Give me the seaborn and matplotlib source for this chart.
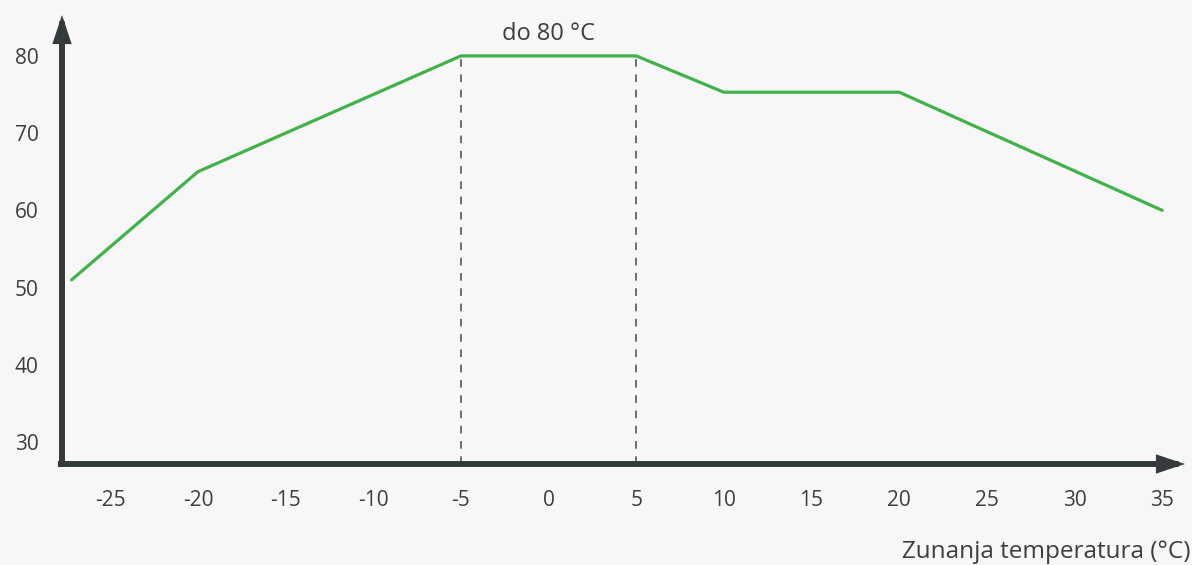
import pandas as pd
import matplotlib.pyplot as plt
import seaborn as sns

# data
outside_temp = [-27.2, -20, -5, 5, 10, 20, 35]
water_temp = [51, 65, 80, 80, 75.3, 75.3, 60]
x_ticks = [-25, -20, -15, -10, -5, 0, 5, 10, 15, 20, 25, 30, 35]
y_ticks = [30, 40, 50, 60, 70, 80]
band_edges = [-5, 5]
band_label = "do 80 °C"
x_label = "Zunanja temperatura (°C)"

bg = "#f7f7f7"
axis_col = "#353b3d"
text_col = "#3b3f41"
green = "#41b149"

sns.set_theme(style="white")
plt.rcParams['font.family'] = ['Open Sans', 'DejaVu Sans']

df = pd.DataFrame({"x": outside_temp, "y": water_temp})

fig = plt.figure(figsize=(11.92, 5.65), dpi=100, facecolor=bg)
ax = fig.add_axes([62 / 1192, 101 / 565, (1185 - 62) / 1192, (464 - 15) / 565])
ax.set_facecolor(bg)

sns.lineplot(data=df, x="x", y="y", color=green, lw=2.3, ax=ax)

ax.set_xlim(-27.75, 36.3)
ax.set_ylim(27.15, 85.3)

# dashed lines marking the 80 °C plateau
for xe in band_edges:
    ax.plot([xe, xe], [27.15, 80], color="#444a4c", lw=1.1, ls=(0, (5, 5)), zorder=1)
ax.text(sum(band_edges) / 2, 82.85, band_label, ha="center", va="center",
        fontsize=17, color=text_col)

for s in ax.spines.values():
    s.set_visible(False)

# arrow axes
arrow_kw = dict(arrowstyle="-|>,head_length=0.6,head_width=0.2", lw=4.3,
                color=axis_col, mutation_scale=20, shrinkA=0, shrinkB=0,
                joinstyle="miter", capstyle="projecting")
ax.annotate("", xy=(1.0, 0.0), xytext=(-0.001, 0.0), xycoords="axes fraction",
            arrowprops=arrow_kw, annotation_clip=False)
ax.annotate("", xy=(0.0, 1.0), xytext=(0.0, 0.0), xycoords="axes fraction",
            arrowprops=arrow_kw, annotation_clip=False)

ax.set_xticks(x_ticks)
ax.set_yticks(y_ticks)
ax.set_xticklabels([str(v) for v in x_ticks])
ax.set_yticklabels([str(v) for v in y_ticks])
ax.tick_params(axis="x", length=0, pad=19, labelsize=15, labelcolor=text_col)
ax.tick_params(axis="y", length=0, pad=17, labelsize=15, labelcolor=text_col)
ax.set_xlabel("")
ax.set_ylabel("")
ax.grid(False)

fig.text(1190 / 1192, 1 - 552 / 565, x_label, ha="right", va="center",
         fontsize=17.5, color=text_col)

fig.savefig("out.png", dpi=100, facecolor=bg)
